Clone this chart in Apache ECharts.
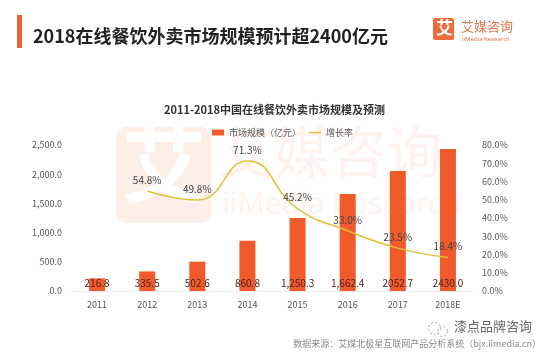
<!DOCTYPE html>
<html>
<head>
<meta charset="utf-8">
<script src="https://cdn.jsdelivr.net/npm/echarts@6/dist/echarts.min.js"></script>
<style>
html,body{margin:0;padding:0;background:#fff;}
#c{width:549px;height:354px;}
</style>
</head>
<body>
<div id="c"></div>
<script>
const categories = ['2011','2012','2013','2014','2015','2016','2017','2018E'];
const marketSize = [216.8, 335.5, 502.6, 860.8, 1250.3, 1662.4, 2052.7, 2430.0];
const marketLabels = ['216.8','335.5','502.6','860.8','1,250.3','1,662.4','2052.7','2430.0'];
const growthRate = [null, 54.8, 49.8, 71.3, 45.2, 33.0, 23.5, 18.4];
const leftTicks = [0, 500, 1000, 1500, 2000, 2500];
const rightTicks = [0, 10, 20, 30, 40, 50, 60, 70, 80];

const FONT = '"Noto Sans CJK SC", "Noto Sans", sans-serif';
const chart = echarts.init(document.getElementById('c'));

function fmtLeft(v){
  return Number(v).toLocaleString('en-US',{minimumFractionDigits:1,maximumFractionDigits:1});
}

chart.setOption({
  backgroundColor:'#ffffff',
  textStyle:{fontFamily:FONT},
  title:[
    {text:'2018在线餐饮外卖市场规模预计超2400亿元', left:28, top:22,
     textStyle:{fontSize:18, fontWeight:'bold', color:'#222', fontFamily:FONT}},
    {text:'2011-2018中国在线餐饮外卖市场规模及预测', left:'center', top:99,
     textStyle:{fontSize:11, fontWeight:'bold', color:'#333', fontFamily:FONT}}
  ],
  legend:{
    top:123, left:207, itemWidth:12, itemHeight:6, itemGap:8,
    textStyle:{fontSize:9, color:'#555', fontFamily:FONT},
    data:[{name:'市场规模（亿元）', icon:'rect'},
          {name:'增长率', icon:'path://M0,0 L24,0 L24,3 L0,3 Z'}]
  },
  grid:{left:72, right:76, top:145, bottom:63, containLabel:false},
  xAxis:{
    type:'category', data:categories,
    axisLine:{show:true, lineStyle:{color:'#ececec'}},
    axisTick:{show:false},
    axisLabel:{fontSize:9, color:'#555', margin:9, fontFamily:FONT}
  },
  yAxis:[
    {type:'value', min:0, max:2500, interval:500,
     axisLine:{show:false}, axisTick:{show:false}, splitLine:{show:false},
     axisLabel:{fontSize:9, color:'#555', margin:10, formatter:fmtLeft, fontFamily:FONT}},
    {type:'value', min:0, max:80, interval:10,
     axisLine:{show:false}, axisTick:{show:false}, splitLine:{show:false},
     axisLabel:{fontSize:9, color:'#555', margin:9, formatter:v=>v.toFixed(1)+'%', fontFamily:FONT}}
  ],
  graphic:[
    {type:'rect', left:17, top:15, shape:{width:5, height:33}, style:{fill:'#E8643C'}},
    {type:'rect', left:433, top:18, shape:{width:21, height:22, r:2}, style:{fill:'#EE6B3E'}},
    {type:'text', left:436, top:19, style:{text:'艾', fill:'#fff', font:'bold 17px "Noto Sans CJK SC"'}},
    {type:'text', left:461, top:20, style:{text:'艾媒咨询', fill:'#E9744A', font:'13px "Noto Sans CJK SC"'}},
    {type:'text', left:462, top:36, style:{text:'iiMedia Research', fill:'#E9744A', font:'6px "Noto Sans"'}},
    // watermark
    {type:'rect', z:-10, left:116, top:127, shape:{width:95, height:96, r:10}, style:{fill:'#FDEEE8'}},
    {type:'text', z:-9, left:122, top:122, style:{text:'艾', fill:'#ffffff', font:'bold 84px "Noto Sans CJK SC"'}},
    {type:'text', z:-9, left:218, top:124, style:{text:'艾媒咨询', fill:'#FDF2EE', font:'56px "Noto Sans CJK SC"'}},
    {type:'text', z:-9, left:222, top:190, style:{text:'iiMedia Research', fill:'#FDF3EF', font:'30px "Noto Sans"'}},
    // footer
    {type:'circle', left:426, top:320, shape:{r:6}, style:{fill:'none', stroke:'#aaa', lineDash:[2,2], lineWidth:1}},
    {type:'circle', left:435, top:324, shape:{r:5}, style:{fill:'none', stroke:'#aaa', lineDash:[2,2], lineWidth:1}},
    {type:'text', left:454, top:320, style:{text:'漆点品牌咨询', fill:'#666', font:'13px "Noto Sans CJK SC"'}},
    {type:'text', right:8, top:339, style:{text:'数据来源：艾媒北极星互联网产品分析系统（bjx.iimedia.cn）', fill:'#8a8a8a', font:'9px "Noto Sans CJK SC"'}}
  ],
  series:[
    {name:'市场规模（亿元）', type:'bar', barWidth:16, yAxisIndex:0,
     data:marketSize,
     itemStyle:{color:'#F15A2B'},
     label:{show:true, position:'insideBottom', distance:3, fontSize:10, color:'#4a2418',
            formatter:p=>marketLabels[p.dataIndex], fontFamily:FONT}},
    {name:'增长率', type:'line', yAxisIndex:1, smooth:0.5,
     data:growthRate, showSymbol:true, symbol:'circle', symbolSize:0.01, connectNulls:false,
     lineStyle:{color:'#E0C23A', width:1.5},
     itemStyle:{color:'#E0C23A'},
     label:{show:true, position:'top', distance:6, fontSize:10, color:'#444',
            formatter:p=>p.value==null?'':p.value.toFixed(1)+'%', fontFamily:FONT},
     z:5}
  ]
});
</script>
</body>
</html>
